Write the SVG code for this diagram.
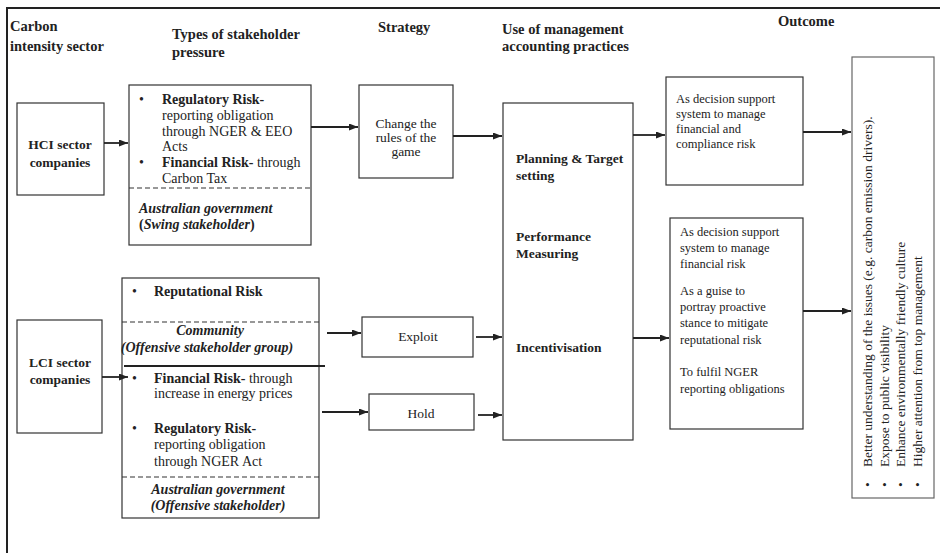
<svg xmlns="http://www.w3.org/2000/svg" width="940" height="553" viewBox="0 0 940 553">
<defs>
<marker id="ah" markerUnits="userSpaceOnUse" markerWidth="9" markerHeight="7" refX="9" refY="3.5" orient="auto">
<path d="M0,0 L9,3.5 L0,7 z" fill="#222"/>
</marker>
<style>
text{font-family:"Liberation Serif","Times New Roman",serif;fill:#222}
.h{font-size:14.5px;font-weight:bold}
.b{font-size:14px}
.s{font-size:12.5px}
.m{font-size:13.5px}
.bd{font-weight:bold}
.it{font-style:italic}
.c{text-anchor:middle}
.box{fill:#fff;stroke:#333;stroke-width:1.2}
.dash{stroke:#333;stroke-width:1.2;stroke-dasharray:5,3;fill:none}
.con line{stroke:#222;stroke-width:1.8;marker-end:url(#ah)}
</style>
</defs>
<rect width="940" height="553" fill="#fff"/>
<g id="frame">
<path d="M7,553 L7,8 L940,8" fill="none" stroke="#222" stroke-width="2"/>
</g>
<g id="headers" class="h">
<text x="10" y="31">Carbon</text>
<text x="10" y="51">intensity sector</text>
<text x="172" y="39">Types of stakeholder</text>
<text x="172" y="57">pressure</text>
<text x="378" y="32">Strategy</text>
<text x="502" y="34">Use of management</text>
<text x="502" y="51">accounting practices</text>
<text x="778" y="26">Outcome</text>
</g>
<g id="hci">
<rect class="box" x="17" y="103" width="87" height="92"/>
<text class="m bd c" x="60" y="149">HCI sector</text>
<text class="m bd c" x="60" y="167">companies</text>
</g>
<g id="hci-pressure" class="b">
<rect class="box" x="129" y="85" width="182" height="160"/>
<text x="139" y="104">•</text>
<text x="162" y="104" class="bd">Regulatory Risk-</text>
<text x="162" y="120">reporting obligation</text>
<text x="162" y="136">through NGER &amp; EEO</text>
<text x="162" y="151">Acts</text>
<text x="139" y="167">•</text>
<text x="162" y="167"><tspan class="bd">Financial Risk-</tspan> through</text>
<text x="162" y="183">Carbon Tax</text>
<line class="dash" x1="129" y1="188" x2="313" y2="188"/>
<text x="139" y="213" class="bd it">Australian government</text>
<text x="139" y="229" class="bd">(<tspan class="it">Swing stakeholder</tspan>)</text>
</g>
<g id="change-rules">
<rect class="box" x="359" y="85" width="94" height="93"/>
<text class="m c" x="406" y="128">Change the</text>
<text class="m c" x="406" y="142">rules of the</text>
<text class="m c" x="406" y="156">game</text>
</g>
<g id="ma-practices">
<rect class="box" x="503" y="103" width="130" height="337"/>
<text class="m bd" x="516" y="163">Planning &amp; Target</text>
<text class="m bd" x="516" y="180">setting</text>
<text class="m bd" x="516" y="241">Performance</text>
<text class="m bd" x="516" y="258">Measuring</text>
<text class="m bd" x="516" y="352">Incentivisation</text>
</g>
<g id="decision-hci" class="s">
<rect class="box" x="666" y="77" width="137" height="108"/>
<text x="676" y="103">As decision support</text>
<text x="676" y="118">system to manage</text>
<text x="676" y="133">financial and</text>
<text x="676" y="148">compliance risk</text>
</g>
<g id="decision-lci" class="s">
<rect class="box" x="670" y="218" width="133" height="211"/>
<text x="680" y="236">As decision support</text>
<text x="680" y="252">system to manage</text>
<text x="680" y="268">financial risk</text>
<text x="680" y="295">As a guise to</text>
<text x="680" y="311">portray proactive</text>
<text x="680" y="327">stance to mitigate</text>
<text x="680" y="344">reputational risk</text>
<text x="680" y="376">To fulfil NGER</text>
<text x="680" y="393">reporting obligations</text>
</g>
<g id="outcome" class="m">
<rect class="box" x="852" y="57" width="82" height="441" style="stroke:#666"/>
<g transform="translate(872,487) rotate(-90)">
<text x="0" y="0">•</text>
<text x="20" y="0">Better understanding of the issues (e.g. carbon emission drivers).</text>
</g>
<g transform="translate(889,487) rotate(-90)">
<text x="0" y="0">•</text>
<text x="20" y="0">Expose to public visibility</text>
</g>
<g transform="translate(905,487) rotate(-90)">
<text x="0" y="0">•</text>
<text x="20" y="0">Enhance environmentally friendly culture</text>
</g>
<g transform="translate(922,487) rotate(-90)">
<text x="0" y="0">•</text>
<text x="20" y="0">Higher attention from top management</text>
</g>
</g>
<g id="lci">
<rect class="box" x="17" y="320" width="85" height="113"/>
<text class="m bd c" x="60" y="367">LCI sector</text>
<text class="m bd c" x="60" y="384">companies</text>
</g>
<g id="lci-pressure" class="b">
<rect class="box" x="122" y="278" width="197" height="240"/>
<text x="132" y="296">•</text>
<text x="154" y="296" class="bd">Reputational Risk</text>
<line class="dash" x1="122" y1="322" x2="322" y2="322"/>
<text x="210" y="335" class="bd it c">Community</text>
<text x="207" y="352" class="bd it c">(Offensive stakeholder group)</text>
<line x1="124" y1="366" x2="325" y2="366" stroke="#222" stroke-width="2"/>
<text x="132" y="383">•</text>
<text x="154" y="383"><tspan class="bd">Financial Risk-</tspan> through</text>
<text x="154" y="398">increase in energy prices</text>
<text x="132" y="433">•</text>
<text x="154" y="433" class="bd">Regulatory Risk-</text>
<text x="154" y="449">reporting obligation</text>
<text x="154" y="466">through NGER Act</text>
<line class="dash" x1="122" y1="477" x2="322" y2="477"/>
<text x="218" y="494" class="bd it c">Australian government</text>
<text x="218" y="510" class="bd it c">(Offensive stakeholder)</text>
</g>
<g id="exploit">
<rect class="box" x="362" y="317" width="111" height="40"/>
<text class="m c" x="418" y="341">Exploit</text>
</g>
<g id="hold">
<rect class="box" x="369" y="394" width="105" height="36"/>
<text class="m c" x="421" y="418">Hold</text>
</g>
<g id="connectors" class="con">
<line x1="104" y1="143" x2="128" y2="143"/>
<line x1="311" y1="127" x2="358" y2="127"/>
<line x1="453" y1="136" x2="502" y2="136"/>
<line x1="633" y1="135" x2="665" y2="135"/>
<line x1="803" y1="132" x2="851" y2="132"/>
<line x1="102" y1="377" x2="128" y2="377"/>
<line x1="327" y1="333" x2="361" y2="333"/>
<line x1="476" y1="337" x2="502" y2="337"/>
<line x1="322" y1="412" x2="368" y2="412"/>
<line x1="478" y1="415" x2="502" y2="415"/>
<line x1="633" y1="338" x2="669" y2="338"/>
<line x1="803" y1="311" x2="851" y2="311"/>
</g>
</svg>
